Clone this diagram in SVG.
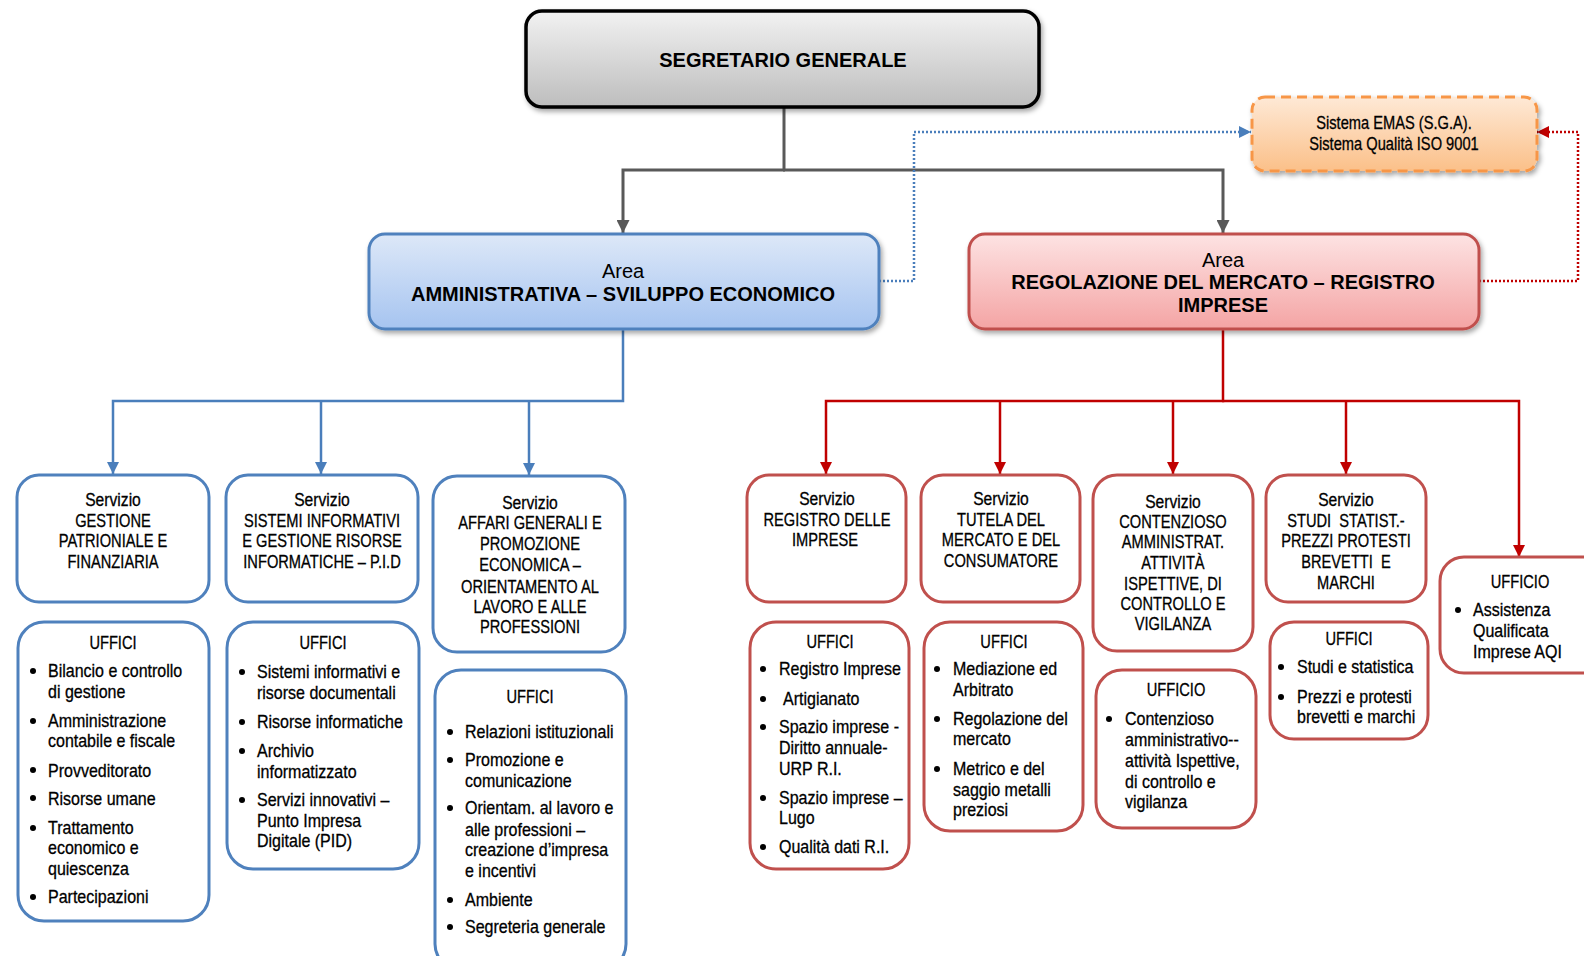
<svg xmlns="http://www.w3.org/2000/svg" width="1584" height="956" viewBox="0 0 1584 956">
<style>
text{font-family:'Liberation Sans',Arial,sans-serif;font-size:18px;fill:#000}
.c{text-anchor:middle}
.m{text-anchor:middle;transform-box:fill-box;transform-origin:50% 50%;transform:scaleX(0.815);stroke:#000;stroke-width:0.3}
.ms{text-anchor:middle;transform-box:fill-box;transform-origin:50% 50%;transform:scaleX(0.87);stroke:#000;stroke-width:0.3}
.t{transform-box:fill-box;transform-origin:0 50%;transform:scaleX(0.89);stroke:#000;stroke-width:0.3}
.h{font-size:20px}
.b{font-weight:bold}
.sb{fill:#fff;stroke:#4f81bd;stroke-width:3}
.sr{fill:#fff;stroke:#c0504d;stroke-width:3}
.gl{fill:none;stroke:#595959;stroke-width:3}
.bl{fill:none;stroke:#4a7ebb;stroke-width:2.5}
.rl{fill:none;stroke:#c00000;stroke-width:2.5}
.dot{fill:#000}
</style>
<defs>
<linearGradient id="gGray" x1="0" y1="0" x2="0" y2="1"><stop offset="0" stop-color="#f2f2f2"/><stop offset="1" stop-color="#bdbdbd"/></linearGradient>
<linearGradient id="gBlue" x1="0" y1="0" x2="0" y2="1"><stop offset="0" stop-color="#dde8f8"/><stop offset="1" stop-color="#a6c4f0"/></linearGradient>
<linearGradient id="gRed" x1="0" y1="0" x2="0" y2="1"><stop offset="0" stop-color="#fde3e3"/><stop offset="1" stop-color="#f4a4a4"/></linearGradient>
<linearGradient id="gOr" x1="0" y1="0" x2="0" y2="1"><stop offset="0" stop-color="#fee9d6"/><stop offset="1" stop-color="#fbc089"/></linearGradient>
<filter id="sh" x="-10%" y="-20%" width="120%" height="150%"><feDropShadow dx="2" dy="3" stdDeviation="2.5" flood-color="#000" flood-opacity="0.35"/></filter>
<marker id="aG" viewBox="0 0 12 12" refX="12" refY="6" markerWidth="13" markerHeight="13" markerUnits="userSpaceOnUse" orient="auto"><path d="M0,0 L12,6 L0,12 z" fill="#595959"/></marker>
<marker id="aB" viewBox="0 0 12 12" refX="12" refY="6" markerWidth="12" markerHeight="12" markerUnits="userSpaceOnUse" orient="auto"><path d="M0,0 L12,6 L0,12 z" fill="#4a7ebb"/></marker>
<marker id="aR" viewBox="0 0 12 12" refX="12" refY="6" markerWidth="12" markerHeight="12" markerUnits="userSpaceOnUse" orient="auto"><path d="M0,0 L12,6 L0,12 z" fill="#c00000"/></marker>
</defs>

<g id="connectors">
<path class="gl" d="M784 107 V170"/>
<path class="gl" d="M785 170 H623 V233" marker-end="url(#aG)"/>
<path class="gl" d="M783 170 H1223 V233" marker-end="url(#aG)"/>
<path class="bl" d="M879 281 H914 V132 H1251" stroke-dasharray="2 2" stroke-width="2" marker-end="url(#aB)"/>
<path class="rl" d="M1479 281 H1578 V132 H1537" stroke-dasharray="2 2" stroke-width="2" marker-end="url(#aR)"/>
<path class="bl" d="M623 329 V401 H113 V474" marker-end="url(#aB)"/>
<path class="bl" d="M321 401 V474" marker-end="url(#aB)"/>
<path class="bl" d="M529 401 V475" marker-end="url(#aB)"/>
<path class="rl" d="M1223 329 V401 H826 V474" marker-end="url(#aR)"/>
<path class="rl" d="M1000 401 V474" marker-end="url(#aR)"/>
<path class="rl" d="M1173 401 V474" marker-end="url(#aR)"/>
<path class="rl" d="M1346 401 V474" marker-end="url(#aR)"/>
<path class="rl" d="M1222 401 H1519 V557" marker-end="url(#aR)"/>
</g>

<g id="segretario">
<rect x="526" y="11" width="513" height="96" rx="16" fill="url(#gGray)" stroke="#000" stroke-width="3.5" filter="url(#sh)"/>
<text class="h b c" x="783" y="67">SEGRETARIO GENERALE</text>
</g>

<g id="emas">
<rect x="1252" y="97" width="285" height="74" rx="13" fill="url(#gOr)" stroke="#f79646" stroke-width="3" stroke-dasharray="10 6" filter="url(#sh)"/>
<text class="m" x="1394" y="129.5">Sistema EMAS (S.G.A).</text>
<text class="m" x="1394" y="150.5">Sistema Qualità ISO 9001</text>
</g>

<g id="area-amm">
<rect x="369" y="234" width="510" height="95" rx="16" fill="url(#gBlue)" stroke="#4f81bd" stroke-width="3" filter="url(#sh)"/>
<text class="h c" x="623" y="278">Area</text>
<text class="h b c" x="623" y="301">AMMINISTRATIVA – SVILUPPO ECONOMICO</text>
</g>

<g id="area-reg">
<rect x="969" y="234" width="510" height="95" rx="16" fill="url(#gRed)" stroke="#c0504d" stroke-width="3" filter="url(#sh)"/>
<text class="h c" x="1223" y="267">Area</text>
<text class="h b c" x="1223" y="289">REGOLAZIONE DEL MERCATO – REGISTRO</text>
<text class="h b c" x="1223" y="312">IMPRESE</text>
</g>

<g id="serv-gestione">
<rect class="sb" x="17" y="475" width="192" height="127" rx="22"/>
<text class="ms" x="113" y="506.5">Servizio</text>
<text class="m" x="113" y="527.5">GESTIONE</text>
<text class="m" x="113" y="547.5">PATRIONIALE E</text>
<text class="m" x="113" y="568">FINANZIARIA</text>
</g>

<g id="serv-sistemi">
<rect class="sb" x="226" y="475" width="192" height="127" rx="22"/>
<text class="ms" x="322" y="506.5">Servizio</text>
<text class="m" x="322" y="527.5">SISTEMI INFORMATIVI</text>
<text class="m" x="322" y="547.5">E GESTIONE RISORSE</text>
<text class="m" x="322" y="568">INFORMATICHE – P.I.D</text>
</g>

<g id="serv-affari">
<rect class="sb" x="433" y="476" width="192" height="176" rx="24"/>
<text class="ms" x="530" y="509.5">Servizio</text>
<text class="m" x="530" y="529.5">AFFARI GENERALI E</text>
<text class="m" x="530" y="550.5">PROMOZIONE</text>
<text class="m" x="530" y="571.5">ECONOMICA –</text>
<text class="m" x="530" y="593">ORIENTAMENTO AL</text>
<text class="m" x="530" y="613.5">LAVORO E ALLE</text>
<text class="m" x="530" y="633.5">PROFESSIONI</text>
</g>

<g id="serv-registro">
<rect class="sr" x="747" y="475" width="159" height="127" rx="22"/>
<text class="ms" x="827" y="505.5">Servizio</text>
<text class="m" x="827" y="526.5">REGISTRO DELLE</text>
<text class="m" x="825" y="546.5">IMPRESE</text>
</g>

<g id="serv-tutela">
<rect class="sr" x="921" y="475" width="159" height="127" rx="22"/>
<text class="ms" x="1001" y="505.5">Servizio</text>
<text class="m" x="1001" y="526.5">TUTELA DEL</text>
<text class="m" x="1001" y="546.5">MERCATO E DEL</text>
<text class="m" x="1001" y="567.5">CONSUMATORE</text>
</g>

<g id="serv-contenzioso">
<rect class="sr" x="1093" y="475" width="160" height="176" rx="24"/>
<text class="ms" x="1173" y="508.5">Servizio</text>
<text class="m" x="1173" y="528.5">CONTENZIOSO</text>
<text class="m" x="1173" y="548.5">AMMINISTRAT.</text>
<text class="m" x="1173" y="569.5">ATTIVITÀ</text>
<text class="m" x="1173" y="590.5">ISPETTIVE, DI</text>
<text class="m" x="1173" y="610.5">CONTROLLO E</text>
<text class="m" x="1173" y="630.5">VIGILANZA</text>
</g>

<g id="serv-studi">
<rect class="sr" x="1266" y="475" width="160" height="127" rx="22"/>
<text class="ms" x="1346" y="506.5">Servizio</text>
<text class="m" x="1346" y="527.5" xml:space="preserve">STUDI  STATIST.-</text>
<text class="m" x="1346" y="547.5">PREZZI PROTESTI</text>
<text class="m" x="1346" y="568.5" xml:space="preserve">BREVETTI  E</text>
<text class="m" x="1346" y="589.5">MARCHI</text>
</g>

<g id="uff-gestione">
<rect class="sb" x="18" y="622" width="191" height="299" rx="26"/>
<text class="m" x="113" y="649">UFFICI</text>
<circle class="dot" cx="33" cy="671" r="3"/><circle class="dot" cx="33" cy="721" r="3"/><circle class="dot" cx="33" cy="770" r="3"/><circle class="dot" cx="33" cy="798" r="3"/><circle class="dot" cx="33" cy="828" r="3"/><circle class="dot" cx="33" cy="897" r="3"/>
<text class="t" x="48" y="677.5">Bilancio e controllo</text>
<text class="t" x="48" y="698">di gestione</text>
<text class="t" x="48" y="727.5">Amministrazione</text>
<text class="t" x="48" y="747.5">contabile e fiscale</text>
<text class="t" x="48" y="777">Provveditorato</text>
<text class="t" x="48" y="805">Risorse umane</text>
<text class="t" x="48" y="834.5">Trattamento</text>
<text class="t" x="48" y="854.5">economico e</text>
<text class="t" x="48" y="875">quiescenza</text>
<text class="t" x="48" y="903.5">Partecipazioni</text>
</g>

<g id="uff-sistemi">
<rect class="sb" x="227" y="622" width="192" height="247" rx="26"/>
<text class="m" x="323" y="649.5">UFFICI</text>
<circle class="dot" cx="242" cy="672" r="3"/><circle class="dot" cx="242" cy="722" r="3"/><circle class="dot" cx="242" cy="751" r="3"/><circle class="dot" cx="242" cy="800" r="3"/>
<text class="t" x="257" y="678">Sistemi informativi e</text>
<text class="t" x="257" y="699">risorse documentali</text>
<text class="t" x="257" y="728">Risorse informatiche</text>
<text class="t" x="257" y="757.5">Archivio</text>
<text class="t" x="257" y="778">informatizzato</text>
<text class="t" x="257" y="806.5">Servizi innovativi –</text>
<text class="t" x="257" y="827">Punto Impresa</text>
<text class="t" x="257" y="847.5">Digitale (PID)</text>
</g>

<g id="uff-affari">
<rect class="sb" x="435" y="670" width="191" height="300" rx="26"/>
<text class="m" x="530" y="703.5">UFFICI</text>
<circle class="dot" cx="450" cy="732" r="3"/><circle class="dot" cx="450" cy="760" r="3"/><circle class="dot" cx="450" cy="808" r="3"/><circle class="dot" cx="450" cy="900" r="3"/><circle class="dot" cx="450" cy="927" r="3"/>
<text class="t" x="465" y="738.5">Relazioni istituzionali</text>
<text class="t" x="465" y="766.5">Promozione e</text>
<text class="t" x="465" y="787.5">comunicazione</text>
<text class="t" x="465" y="814.5">Orientam. al lavoro e</text>
<text class="t" x="465" y="836.5">alle professioni –</text>
<text class="t" x="465" y="856.5">creazione d’impresa</text>
<text class="t" x="465" y="877.5">e incentivi</text>
<text class="t" x="465" y="906.5">Ambiente</text>
<text class="t" x="465" y="933.5">Segreteria generale</text>
</g>

<g id="uff-registro">
<rect class="sr" x="750" y="622" width="159" height="247" rx="26"/>
<text class="m" x="830" y="648.5">UFFICI</text>
<circle class="dot" cx="763" cy="669" r="3"/><circle class="dot" cx="763" cy="699" r="3"/><circle class="dot" cx="763" cy="727" r="3"/><circle class="dot" cx="763" cy="798" r="3"/><circle class="dot" cx="763" cy="847" r="3"/>
<text class="t" x="779" y="675.5">Registro Imprese</text>
<text class="t" x="783" y="705.5">Artigianato</text>
<text class="t" x="779" y="733.5">Spazio imprese -</text>
<text class="t" x="779" y="754.5">Diritto annuale-</text>
<text class="t" x="779" y="775.5">URP R.I.</text>
<text class="t" x="779" y="804.5">Spazio imprese –</text>
<text class="t" x="779" y="824.5">Lugo</text>
<text class="t" x="779" y="853.5">Qualità dati R.I.</text>
</g>

<g id="uff-tutela">
<rect class="sr" x="924" y="622" width="159" height="209" rx="26"/>
<text class="m" x="1004" y="648.5">UFFICI</text>
<circle class="dot" cx="937" cy="669" r="3"/><circle class="dot" cx="937" cy="719" r="3"/><circle class="dot" cx="937" cy="769" r="3"/>
<text class="t" x="953" y="675.5">Mediazione ed</text>
<text class="t" x="953" y="696.5">Arbitrato</text>
<text class="t" x="953" y="725.5">Regolazione del</text>
<text class="t" x="953" y="745.5">mercato</text>
<text class="t" x="953" y="775.5">Metrico e del</text>
<text class="t" x="953" y="796.5">saggio metalli</text>
<text class="t" x="953" y="816.5">preziosi</text>
</g>

<g id="uff-contenzioso">
<rect class="sr" x="1096" y="670" width="160" height="158" rx="26"/>
<text class="m" x="1176" y="696.5">UFFICIO</text>
<circle class="dot" cx="1109" cy="719" r="3"/>
<text class="t" x="1125" y="725.5">Contenzioso</text>
<text class="t" x="1125" y="746.5">amministrativo--</text>
<text class="t" x="1125" y="767.5">attività Ispettive,</text>
<text class="t" x="1125" y="788.5">di controllo e</text>
<text class="t" x="1125" y="808.5">vigilanza</text>
</g>

<g id="uff-studi">
<rect class="sr" x="1270" y="622" width="158" height="117" rx="24"/>
<text class="m" x="1349" y="645.5">UFFICI</text>
<circle class="dot" cx="1281" cy="667" r="3"/><circle class="dot" cx="1281" cy="697" r="3"/>
<text class="t" x="1297" y="673.5">Studi e statistica</text>
<text class="t" x="1297" y="703.5">Prezzi e protesti</text>
<text class="t" x="1297" y="723.5">brevetti e marchi</text>
</g>

<g id="uff-aqi">
<rect class="sr" x="1440" y="557" width="170" height="116" rx="24"/>
<text class="m" x="1520" y="588.5">UFFICIO</text>
<circle class="dot" cx="1458" cy="610" r="3"/>
<text class="t" x="1473" y="616.5">Assistenza</text>
<text class="t" x="1473" y="637.5">Qualificata</text>
<text class="t" x="1473" y="658.5">Imprese AQI</text>
</g>
</svg>
